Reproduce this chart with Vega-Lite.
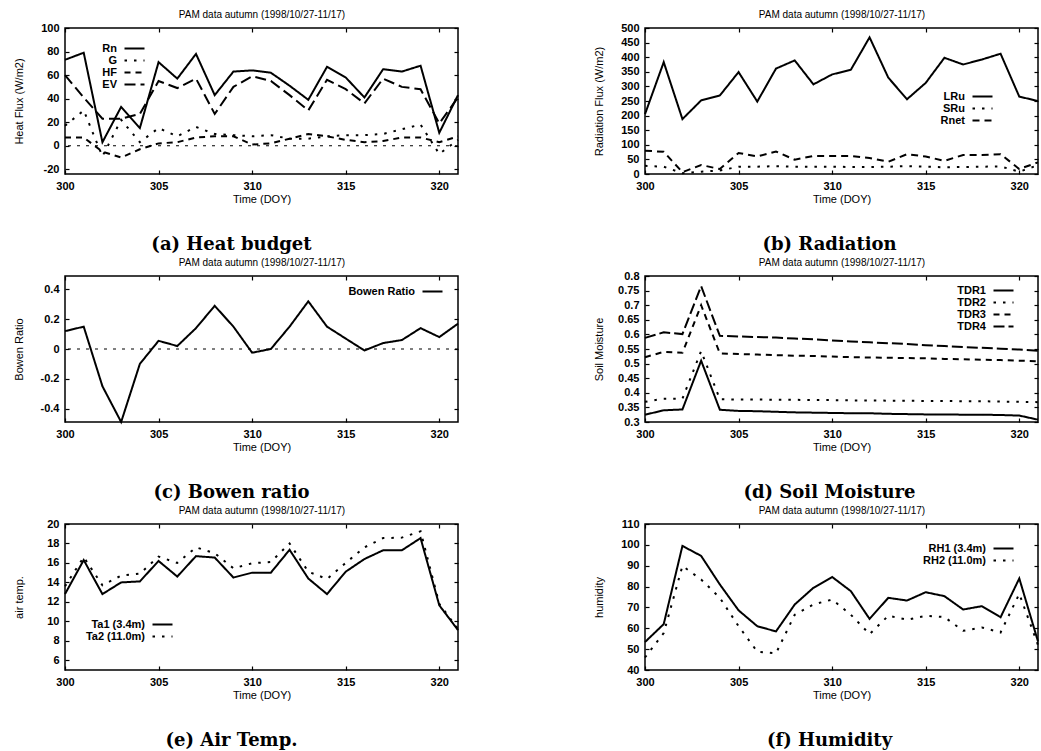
{
  "$schema": "https://vega.github.io/schema/vega-lite/v6.json",
  "background": "white",
  "padding": {"left": 12, "top": 8, "right": 0, "bottom": 0},
  "columns": 2,
  "spacing": {"row": 1, "column": 129},
  "config": {
    "font": "Liberation Sans",
    "view": {"stroke": "black", "strokeWidth": 1.5},
    "axis": {"grid": false, "domain": false, "tickColor": "black", "tickSize": -4, "tickWidth": 1.2, "labelPadding": 10, "labelFont": "Liberation Sans", "labelFontSize": 11, "labelFontWeight": "bold", "labelColor": "black", "titleFont": "Liberation Sans", "titleFontSize": 11, "titleFontWeight": "normal", "titleColor": "black", "labelFlush": false, "labelOverlap": false},
    "legend": {"orient": "none", "title": null, "symbolType": "M-5,0H5", "symbolSize": 16, "symbolStrokeWidth": 2, "symbolStrokeColor": "black", "symbolFillColor": "transparent", "labelAlign": "right", "labelOffset": -23, "labelFontSize": 11, "labelFont": "Liberation Sans", "labelFontWeight": "bold", "labelColor": "black", "rowPadding": 0, "padding": 0},
    "title": {"font": "DejaVu Serif", "fontSize": 18, "fontWeight": "bold", "color": "black", "orient": "bottom", "anchor": "middle", "frame": "group", "offset": 32}
  },
  "resolve": {"scale": {"x": "independent", "y": "independent", "strokeDash": "independent"}, "legend": {"strokeDash": "independent"}},
  "concat": [
    {
      "width": 393, "height": 146,
      "title": {"text": "(a) Heat budget", "dx": -30},
      "data": {"values": [
        {"d": 300, "Rn": 73, "G": 17, "HF": 7, "EV": 60},
        {"d": 301, "Rn": 79, "G": 30, "HF": 7, "EV": 41},
        {"d": 302, "Rn": 3, "G": -9, "HF": -5, "EV": 23},
        {"d": 303, "Rn": 33, "G": 22, "HF": -10, "EV": 23},
        {"d": 304, "Rn": 15, "G": 3, "HF": -3, "EV": 27},
        {"d": 305, "Rn": 71, "G": 15, "HF": 2, "EV": 55},
        {"d": 306, "Rn": 57, "G": 8, "HF": 3, "EV": 49},
        {"d": 307, "Rn": 78, "G": 16, "HF": 7, "EV": 57},
        {"d": 308, "Rn": 43, "G": 10, "HF": 8, "EV": 27},
        {"d": 309, "Rn": 63, "G": 9, "HF": 8, "EV": 50},
        {"d": 310, "Rn": 64, "G": 8, "HF": 1, "EV": 59},
        {"d": 311, "Rn": 62, "G": 9, "HF": 2, "EV": 55},
        {"d": 312, "Rn": 51, "G": 6, "HF": 6, "EV": 43},
        {"d": 313, "Rn": 39, "G": 6, "HF": 10, "EV": 30},
        {"d": 314, "Rn": 67, "G": 8, "HF": 8, "EV": 56},
        {"d": 315, "Rn": 58, "G": 9, "HF": 5, "EV": 48},
        {"d": 316, "Rn": 41, "G": 9, "HF": 3, "EV": 36},
        {"d": 317, "Rn": 65, "G": 10, "HF": 4, "EV": 57},
        {"d": 318, "Rn": 63, "G": 14, "HF": 7, "EV": 50},
        {"d": 319, "Rn": 68, "G": 18, "HF": 7, "EV": 48},
        {"d": 320, "Rn": 11, "G": -7, "HF": 3, "EV": 19},
        {"d": 321, "Rn": 43, "G": 5, "HF": 8, "EV": 41}
      ]},
      "transform": [{"fold": ["Rn", "G", "HF", "EV"], "as": ["series", "value"]}],
      "layer": [
        {"data": {"values": [{"z": 0}]}, "mark": {"type": "rule", "strokeDash": [3, 6], "color": "black", "strokeWidth": 1.2}, "encoding": {"y": {"field": "z", "type": "quantitative", "axis": null}}},
        {"mark": {"type": "line", "color": "black", "strokeWidth": 2},
         "encoding": {
           "x": {"field": "d", "type": "quantitative", "scale": {"domain": [300, 321], "nice": false, "zero": false}, "axis": {"orient": "bottom", "title": "Time (DOY)", "values": [300, 305, 310, 315, 320], "titlePadding": 2}},
           "y": {"field": "value", "type": "quantitative", "scale": {"domain": [-24, 100], "nice": false, "zero": false}, "axis": {"orient": "left", "title": "Heat Flux (W/m2)", "values": [-20, 0, 20, 40, 60, 80, 100], "labelExpr": "'' + datum.value", "minExtent": 30, "maxExtent": 30, "titlePadding": 11}},
           "strokeDash": {"field": "series", "type": "nominal", "scale": {"domain": ["Rn", "G", "HF", "EV"], "range": [[1, 0], [2.5, 7], [6, 5], [11, 5]]}, "legend": {"legendX": 64, "legendY": 15}}
         }},
        {"mark": {"type": "point", "opacity": 0},
         "encoding": {
           "x": {"field": "d", "type": "quantitative", "axis": {"orient": "top", "labels": false, "title": "PAM data autumn (1998/10/27-11/17)", "titleFontSize": 10, "titlePadding": 9, "minExtent": 0, "maxExtent": 0, "values": [300, 305, 310, 315, 320]}},
           "y": {"field": "value", "type": "quantitative", "axis": {"orient": "right", "labels": false, "title": null, "minExtent": 0, "maxExtent": 0, "values": [-20, 0, 20, 40, 60, 80, 100]}}
         }}
      ],
      "resolve": {"axis": {"x": "independent", "y": "independent"}}
    },
    {
      "width": 393, "height": 146,
      "title": {"text": "(b) Radiation", "dx": -12},
      "data": {"values": [
        {"d": 300, "LRu": 205, "SRu": 28, "Rnet": 80},
        {"d": 301, "LRu": 383, "SRu": 25, "Rnet": 76},
        {"d": 302, "LRu": 188, "SRu": 3, "Rnet": 6},
        {"d": 303, "LRu": 252, "SRu": 8, "Rnet": 31},
        {"d": 304, "LRu": 269, "SRu": 12, "Rnet": 17},
        {"d": 305, "LRu": 349, "SRu": 25, "Rnet": 72},
        {"d": 306, "LRu": 248, "SRu": 25, "Rnet": 60},
        {"d": 307, "LRu": 361, "SRu": 27, "Rnet": 77},
        {"d": 308, "LRu": 389, "SRu": 25, "Rnet": 49},
        {"d": 309, "LRu": 307, "SRu": 25, "Rnet": 62},
        {"d": 310, "LRu": 341, "SRu": 25, "Rnet": 62},
        {"d": 311, "LRu": 357, "SRu": 24, "Rnet": 62},
        {"d": 312, "LRu": 468, "SRu": 24, "Rnet": 55},
        {"d": 313, "LRu": 330, "SRu": 25, "Rnet": 42},
        {"d": 314, "LRu": 256, "SRu": 27, "Rnet": 68},
        {"d": 315, "LRu": 312, "SRu": 25, "Rnet": 60},
        {"d": 316, "LRu": 398, "SRu": 23, "Rnet": 45},
        {"d": 317, "LRu": 375, "SRu": 24, "Rnet": 65},
        {"d": 318, "LRu": 392, "SRu": 25, "Rnet": 65},
        {"d": 319, "LRu": 412, "SRu": 26, "Rnet": 68},
        {"d": 320, "LRu": 265, "SRu": 8, "Rnet": 17},
        {"d": 321, "LRu": 250, "SRu": 30, "Rnet": 40}
      ]},
      "transform": [{"fold": ["LRu", "SRu", "Rnet"], "as": ["series", "value"]}],
      "layer": [
        {"mark": {"type": "line", "color": "black", "strokeWidth": 2},
         "encoding": {
           "x": {"field": "d", "type": "quantitative", "scale": {"domain": [300, 321], "nice": false, "zero": false}, "axis": {"orient": "bottom", "title": "Time (DOY)", "values": [300, 305, 310, 315, 320], "titlePadding": 2}},
           "y": {"field": "value", "type": "quantitative", "scale": {"domain": [0, 500], "nice": false, "zero": false}, "axis": {"orient": "left", "title": "Radiation Flux (W/m2)", "values": [0, 50, 100, 150, 200, 250, 300, 350, 400, 450, 500], "labelExpr": "'' + datum.value", "minExtent": 30, "maxExtent": 30, "titlePadding": 11}},
           "strokeDash": {"field": "series", "type": "nominal", "scale": {"domain": ["LRu", "SRu", "Rnet"], "range": [[1, 0], [2.5, 7], [7, 5]]}, "legend": {"legendX": 332, "legendY": 63}}
         }},
        {"mark": {"type": "point", "opacity": 0},
         "encoding": {
           "x": {"field": "d", "type": "quantitative", "axis": {"orient": "top", "labels": false, "title": "PAM data autumn (1998/10/27-11/17)", "titleFontSize": 10, "titlePadding": 9, "minExtent": 0, "maxExtent": 0, "values": [300, 305, 310, 315, 320]}},
           "y": {"field": "value", "type": "quantitative", "axis": {"orient": "right", "labels": false, "title": null, "minExtent": 0, "maxExtent": 0, "values": [0, 50, 100, 150, 200, 250, 300, 350, 400, 450, 500]}}
         }}
      ],
      "resolve": {"axis": {"x": "independent", "y": "independent"}}
    },
    {
      "width": 393, "height": 146,
      "title": {"text": "(c) Bowen ratio", "dx": -30},
      "data": {"values": [
        {"d": 300, "BR": 0.12},
        {"d": 301, "BR": 0.15},
        {"d": 302, "BR": -0.25},
        {"d": 303, "BR": -0.49},
        {"d": 304, "BR": -0.1},
        {"d": 305, "BR": 0.055},
        {"d": 306, "BR": 0.02},
        {"d": 307, "BR": 0.14},
        {"d": 308, "BR": 0.29},
        {"d": 309, "BR": 0.15},
        {"d": 310, "BR": -0.025},
        {"d": 311, "BR": 0.0},
        {"d": 312, "BR": 0.15},
        {"d": 313, "BR": 0.32},
        {"d": 314, "BR": 0.15},
        {"d": 315, "BR": 0.07},
        {"d": 316, "BR": -0.01},
        {"d": 317, "BR": 0.04},
        {"d": 318, "BR": 0.06},
        {"d": 319, "BR": 0.14},
        {"d": 320, "BR": 0.08},
        {"d": 321, "BR": 0.17}
      ]},
      "transform": [{"fold": ["BR"], "as": ["series", "value"]}],
      "layer": [
        {"data": {"values": [{"z": 0}]}, "mark": {"type": "rule", "strokeDash": [3, 6], "color": "black", "strokeWidth": 1.2}, "encoding": {"y": {"field": "z", "type": "quantitative", "axis": null}}},
        {"mark": {"type": "line", "color": "black", "strokeWidth": 2},
         "encoding": {
           "x": {"field": "d", "type": "quantitative", "scale": {"domain": [300, 321], "nice": false, "zero": false}, "axis": {"orient": "bottom", "title": "Time (DOY)", "values": [300, 305, 310, 315, 320], "titlePadding": 2}},
           "y": {"field": "value", "type": "quantitative", "scale": {"domain": [-0.49, 0.49], "nice": false, "zero": false}, "axis": {"orient": "left", "title": "Bowen Ratio", "values": [-0.4, -0.2, 0, 0.2, 0.4], "labelExpr": "'' + datum.value", "minExtent": 30, "maxExtent": 30, "titlePadding": 11}},
           "strokeDash": {"field": "series", "type": "nominal", "scale": {"domain": ["BR"], "range": [[1, 0]]}, "legend": {"legendX": 362, "legendY": 10, "labelExpr": "'Bowen Ratio'"}}
         }},
        {"mark": {"type": "point", "opacity": 0},
         "encoding": {
           "x": {"field": "d", "type": "quantitative", "axis": {"orient": "top", "labels": false, "title": "PAM data autumn (1998/10/27-11/17)", "titleFontSize": 10, "titlePadding": 9, "minExtent": 0, "maxExtent": 0, "values": [300, 305, 310, 315, 320]}},
           "y": {"field": "value", "type": "quantitative", "axis": {"orient": "right", "labels": false, "title": null, "minExtent": 0, "maxExtent": 0, "values": [-0.4, -0.2, 0, 0.2, 0.4]}}
         }}
      ],
      "resolve": {"axis": {"x": "independent", "y": "independent"}}
    },
    {
      "width": 393, "height": 146,
      "title": {"text": "(d) Soil Moisture", "dx": -12},
      "data": {"values": [
        {"d": 300, "TDR1": 0.325, "TDR2": 0.369, "TDR3": 0.522, "TDR4": 0.588},
        {"d": 301, "TDR1": 0.34, "TDR2": 0.38, "TDR3": 0.54, "TDR4": 0.607},
        {"d": 302, "TDR1": 0.343, "TDR2": 0.38, "TDR3": 0.537, "TDR4": 0.601},
        {"d": 303, "TDR1": 0.51, "TDR2": 0.543, "TDR3": 0.7, "TDR4": 0.765},
        {"d": 304, "TDR1": 0.342, "TDR2": 0.378, "TDR3": 0.535, "TDR4": 0.595},
        {"d": 305, "TDR1": 0.338, "TDR2": 0.377, "TDR3": 0.533, "TDR4": 0.593},
        {"d": 306, "TDR1": 0.337, "TDR2": 0.377, "TDR3": 0.531, "TDR4": 0.591},
        {"d": 307, "TDR1": 0.335, "TDR2": 0.376, "TDR3": 0.529, "TDR4": 0.589},
        {"d": 308, "TDR1": 0.333, "TDR2": 0.376, "TDR3": 0.527, "TDR4": 0.586},
        {"d": 309, "TDR1": 0.332, "TDR2": 0.375, "TDR3": 0.526, "TDR4": 0.583},
        {"d": 310, "TDR1": 0.331, "TDR2": 0.375, "TDR3": 0.524, "TDR4": 0.579},
        {"d": 311, "TDR1": 0.33, "TDR2": 0.374, "TDR3": 0.522, "TDR4": 0.576},
        {"d": 312, "TDR1": 0.33, "TDR2": 0.374, "TDR3": 0.521, "TDR4": 0.573},
        {"d": 313, "TDR1": 0.328, "TDR2": 0.373, "TDR3": 0.52, "TDR4": 0.57},
        {"d": 314, "TDR1": 0.327, "TDR2": 0.373, "TDR3": 0.519, "TDR4": 0.567},
        {"d": 315, "TDR1": 0.326, "TDR2": 0.372, "TDR3": 0.518, "TDR4": 0.563},
        {"d": 316, "TDR1": 0.326, "TDR2": 0.372, "TDR3": 0.516, "TDR4": 0.56},
        {"d": 317, "TDR1": 0.325, "TDR2": 0.371, "TDR3": 0.515, "TDR4": 0.557},
        {"d": 318, "TDR1": 0.325, "TDR2": 0.371, "TDR3": 0.513, "TDR4": 0.554},
        {"d": 319, "TDR1": 0.324, "TDR2": 0.37, "TDR3": 0.512, "TDR4": 0.551},
        {"d": 320, "TDR1": 0.322, "TDR2": 0.369, "TDR3": 0.51, "TDR4": 0.548},
        {"d": 321, "TDR1": 0.308, "TDR2": 0.368, "TDR3": 0.508, "TDR4": 0.544}
      ]},
      "transform": [{"fold": ["TDR1", "TDR2", "TDR3", "TDR4"], "as": ["series", "value"]}],
      "layer": [
        {"mark": {"type": "line", "color": "black", "strokeWidth": 2},
         "encoding": {
           "x": {"field": "d", "type": "quantitative", "scale": {"domain": [300, 321], "nice": false, "zero": false}, "axis": {"orient": "bottom", "title": "Time (DOY)", "values": [300, 305, 310, 315, 320], "titlePadding": 2}},
           "y": {"field": "value", "type": "quantitative", "scale": {"domain": [0.3, 0.8], "nice": false, "zero": false}, "axis": {"orient": "left", "title": "Soil Moisture", "values": [0.3, 0.35, 0.4, 0.45, 0.5, 0.55, 0.6, 0.65, 0.7, 0.75, 0.8], "labelExpr": "'' + datum.value", "minExtent": 30, "maxExtent": 30, "titlePadding": 11}},
           "strokeDash": {"field": "series", "type": "nominal", "scale": {"domain": ["TDR1", "TDR2", "TDR3", "TDR4"], "range": [[1, 0], [2.5, 7], [6, 5], [11, 4]]}, "legend": {"legendX": 353, "legendY": 9}}
         }},
        {"mark": {"type": "point", "opacity": 0},
         "encoding": {
           "x": {"field": "d", "type": "quantitative", "axis": {"orient": "top", "labels": false, "title": "PAM data autumn (1998/10/27-11/17)", "titleFontSize": 10, "titlePadding": 9, "minExtent": 0, "maxExtent": 0, "values": [300, 305, 310, 315, 320]}},
           "y": {"field": "value", "type": "quantitative", "axis": {"orient": "right", "labels": false, "title": null, "minExtent": 0, "maxExtent": 0, "values": [0.3, 0.35, 0.4, 0.45, 0.5, 0.55, 0.6, 0.65, 0.7, 0.75, 0.8]}}
         }}
      ],
      "resolve": {"axis": {"x": "independent", "y": "independent"}}
    },
    {
      "width": 393, "height": 146,
      "title": {"text": "(e) Air Temp.", "dx": -30},
      "data": {"values": [
        {"d": 300, "Ta1": 12.8, "Ta2": 13.6},
        {"d": 301, "Ta1": 16.3, "Ta2": 16.6},
        {"d": 302, "Ta1": 12.8, "Ta2": 13.7},
        {"d": 303, "Ta1": 14.0, "Ta2": 14.7},
        {"d": 304, "Ta1": 14.1, "Ta2": 14.9},
        {"d": 305, "Ta1": 16.2, "Ta2": 16.65},
        {"d": 306, "Ta1": 14.6, "Ta2": 16.0},
        {"d": 307, "Ta1": 16.7, "Ta2": 17.6},
        {"d": 308, "Ta1": 16.55, "Ta2": 17.0},
        {"d": 309, "Ta1": 14.5, "Ta2": 15.45},
        {"d": 310, "Ta1": 15.0, "Ta2": 15.97},
        {"d": 311, "Ta1": 15.0, "Ta2": 16.1},
        {"d": 312, "Ta1": 17.35, "Ta2": 18.0},
        {"d": 313, "Ta1": 14.4, "Ta2": 15.1},
        {"d": 314, "Ta1": 12.8, "Ta2": 14.35},
        {"d": 315, "Ta1": 15.1, "Ta2": 16.0},
        {"d": 316, "Ta1": 16.4, "Ta2": 17.6},
        {"d": 317, "Ta1": 17.3, "Ta2": 18.55},
        {"d": 318, "Ta1": 17.3, "Ta2": 18.6},
        {"d": 319, "Ta1": 18.55, "Ta2": 19.25},
        {"d": 320, "Ta1": 11.65, "Ta2": 11.8},
        {"d": 321, "Ta1": 9.1, "Ta2": 9.2}
      ]},
      "transform": [{"fold": ["Ta1", "Ta2"], "as": ["series", "value"]}],
      "layer": [
        {"mark": {"type": "line", "color": "black", "strokeWidth": 2},
         "encoding": {
           "x": {"field": "d", "type": "quantitative", "scale": {"domain": [300, 321], "nice": false, "zero": false}, "axis": {"orient": "bottom", "title": "Time (DOY)", "values": [300, 305, 310, 315, 320], "titlePadding": 2}},
           "y": {"field": "value", "type": "quantitative", "scale": {"domain": [5, 20], "nice": false, "zero": false}, "axis": {"orient": "left", "title": "air temp.", "values": [6, 8, 10, 12, 14, 16, 18, 20], "labelExpr": "'' + datum.value", "minExtent": 30, "maxExtent": 30, "titlePadding": 11}},
           "strokeDash": {"field": "series", "type": "nominal", "scale": {"domain": ["Ta1", "Ta2"], "range": [[1, 0], [2.5, 7]]}, "legend": {"legendX": 92, "legendY": 95, "labelExpr": "datum.label == 'Ta1' ? 'Ta1  (3.4m)' : 'Ta2 (11.0m)'"}}
         }},
        {"mark": {"type": "point", "opacity": 0},
         "encoding": {
           "x": {"field": "d", "type": "quantitative", "axis": {"orient": "top", "labels": false, "title": "PAM data autumn (1998/10/27-11/17)", "titleFontSize": 10, "titlePadding": 9, "minExtent": 0, "maxExtent": 0, "values": [300, 305, 310, 315, 320]}},
           "y": {"field": "value", "type": "quantitative", "axis": {"orient": "right", "labels": false, "title": null, "minExtent": 0, "maxExtent": 0, "values": [6, 8, 10, 12, 14, 16, 18, 20]}}
         }}
      ],
      "resolve": {"axis": {"x": "independent", "y": "independent"}}
    },
    {
      "width": 393, "height": 146,
      "title": {"text": "(f) Humidity", "dx": -12},
      "data": {"values": [
        {"d": 300, "RH1": 53.4, "RH2": 46},
        {"d": 301, "RH1": 62, "RH2": 57.7},
        {"d": 302, "RH1": 99.5, "RH2": 89.9},
        {"d": 303, "RH1": 94.7, "RH2": 83.4},
        {"d": 304, "RH1": 81, "RH2": 74.6},
        {"d": 305, "RH1": 68.6, "RH2": 61},
        {"d": 306, "RH1": 61, "RH2": 48.8},
        {"d": 307, "RH1": 58.5, "RH2": 48},
        {"d": 308, "RH1": 71.4, "RH2": 66.5},
        {"d": 309, "RH1": 79.4, "RH2": 71.4},
        {"d": 310, "RH1": 84.6, "RH2": 73.8},
        {"d": 311, "RH1": 77.8, "RH2": 66.5},
        {"d": 312, "RH1": 64.5, "RH2": 57.2},
        {"d": 313, "RH1": 74.6, "RH2": 66},
        {"d": 314, "RH1": 73.3, "RH2": 64.1},
        {"d": 315, "RH1": 77.3, "RH2": 66},
        {"d": 316, "RH1": 75.4, "RH2": 65.4},
        {"d": 317, "RH1": 69, "RH2": 58.8},
        {"d": 318, "RH1": 70.6, "RH2": 60.4},
        {"d": 319, "RH1": 65.3, "RH2": 58},
        {"d": 320, "RH1": 83.9, "RH2": 76.5},
        {"d": 321, "RH1": 53.7, "RH2": 52}
      ]},
      "transform": [{"fold": ["RH1", "RH2"], "as": ["series", "value"]}],
      "layer": [
        {"mark": {"type": "line", "color": "black", "strokeWidth": 2},
         "encoding": {
           "x": {"field": "d", "type": "quantitative", "scale": {"domain": [300, 321], "nice": false, "zero": false}, "axis": {"orient": "bottom", "title": "Time (DOY)", "values": [300, 305, 310, 315, 320], "titlePadding": 2}},
           "y": {"field": "value", "type": "quantitative", "scale": {"domain": [40, 110], "nice": false, "zero": false}, "axis": {"orient": "left", "title": "humidity", "values": [40, 50, 60, 70, 80, 90, 100, 110], "labelExpr": "'' + datum.value", "minExtent": 30, "maxExtent": 30, "titlePadding": 11}},
           "strokeDash": {"field": "series", "type": "nominal", "scale": {"domain": ["RH1", "RH2"], "range": [[1, 0], [2.5, 7]]}, "legend": {"legendX": 353, "legendY": 19, "labelExpr": "datum.label == 'RH1' ? 'RH1  (3.4m)' : 'RH2 (11.0m)'"}}
         }},
        {"mark": {"type": "point", "opacity": 0},
         "encoding": {
           "x": {"field": "d", "type": "quantitative", "axis": {"orient": "top", "labels": false, "title": "PAM data autumn (1998/10/27-11/17)", "titleFontSize": 10, "titlePadding": 9, "minExtent": 0, "maxExtent": 0, "values": [300, 305, 310, 315, 320]}},
           "y": {"field": "value", "type": "quantitative", "axis": {"orient": "right", "labels": false, "title": null, "minExtent": 0, "maxExtent": 0, "values": [40, 50, 60, 70, 80, 90, 100, 110]}}
         }}
      ],
      "resolve": {"axis": {"x": "independent", "y": "independent"}}
    }
  ]
}
